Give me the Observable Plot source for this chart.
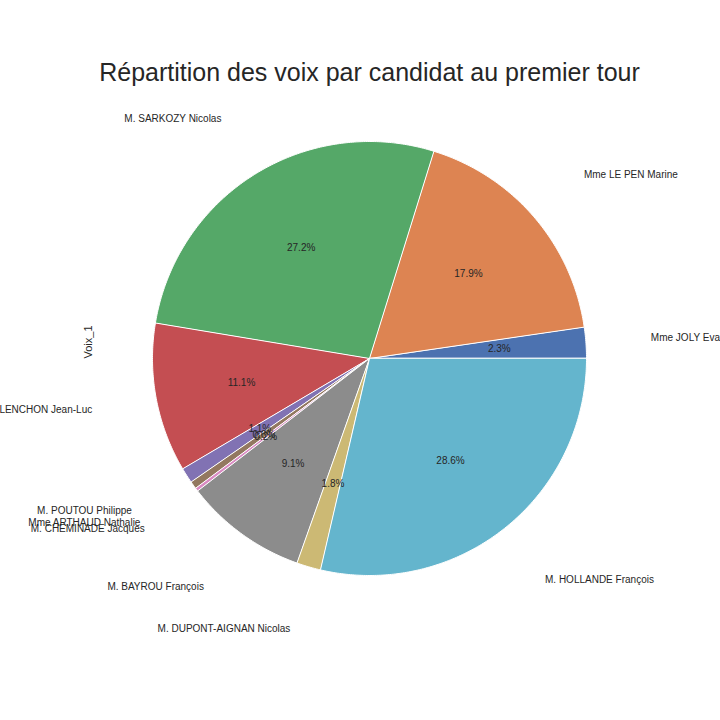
<!DOCTYPE html>
<html>
<head>
<meta charset="utf-8">
<script src="https://cdn.jsdelivr.net/npm/d3@7"></script>
<script src="https://cdn.jsdelivr.net/npm/@observablehq/plot@0.6"></script>
<style>
  body { margin: 0; background: #ffffff; }
  #chart { width: 720px; height: 720px; overflow: hidden; }
</style>
</head>
<body>
<div id="chart"></div>
<script>
const titre = "Répartition des voix par candidat au premier tour";
const yLabel = "Voix_1";
const candidats = [
  "Mme JOLY Eva", "Mme LE PEN Marine", "M. SARKOZY Nicolas", "M. MÉLENCHON Jean-Luc",
  "M. POUTOU Philippe", "Mme ARTHAUD Nathalie", "M. CHEMINADE Jacques",
  "M. BAYROU François", "M. DUPONT-AIGNAN Nicolas", "M. HOLLANDE François"
];
const voix = [828345, 6421426, 9753629, 3984822, 411160, 202548, 89545, 3275122, 643907, 10272705];
const couleurs = ["#4C72B0", "#DD8452", "#55A868", "#C44E52", "#8172B3", "#937860", "#DA8BC3", "#8C8C8C", "#CCB974", "#64B5CD"];

// Pie geometry (matplotlib style: start at 0 rad, counterclockwise)
const total = d3.sum(voix);
let cum = 0;
const slices = candidats.map((name, i) => {
  const a0 = 2 * Math.PI * cum / total;
  cum += voix[i];
  const a1 = 2 * Math.PI * cum / total;
  const mid = (a0 + a1) / 2;
  return {name, value: voix[i], a0, a1, mid, pct: 100 * voix[i] / total};
});
const polys = [];
for (const s of slices) {
  polys.push({name: s.name, x: 0, y: 0});
  const n = Math.max(2, Math.ceil((s.a1 - s.a0) / 0.01));
  for (let k = 0; k <= n; k++) {
    const a = s.a0 + (s.a1 - s.a0) * k / n;
    polys.push({name: s.name, x: Math.cos(a), y: Math.sin(a)});
  }
}
const labelDist = 1.3, pctDist = 0.6;
const labels = slices.map(s => ({name: s.name, x: labelDist * Math.cos(s.mid), y: labelDist * Math.sin(s.mid)}));
const pcts = slices.map(s => ({txt: s.pct.toFixed(1) + "%", x: pctDist * Math.cos(s.mid), y: pctDist * Math.sin(s.mid)}));

const R = 217, cx = 369, cy = 358, W = 720, H = 720;
const font = "'Liberation Sans', Arial, 'DejaVu Sans', sans-serif";
const ink = "#262626";

const chart = Plot.plot({
  width: W, height: H, margin: 0,
  style: {fontFamily: font, background: "white"},
  x: {domain: [-cx / R, (W - cx) / R], axis: null},
  y: {domain: [-(H - cy) / R, cy / R], axis: null},
  color: {domain: candidats, range: couleurs},
  marks: [
    Plot.line(polys, {x: "x", y: "y", z: "name", fill: "name", stroke: "white", strokeWidth: 1, curve: "linear-closed"}),
    Plot.text(labels.filter(d => d.x > 0), {x: "x", y: "y", text: "name", textAnchor: "start", fontSize: 10, fill: ink}),
    Plot.text(labels.filter(d => d.x <= 0), {x: "x", y: "y", text: "name", textAnchor: "end", fontSize: 10, fill: ink}),
    Plot.text(pcts, {x: "x", y: "y", text: "txt", fontSize: 10, fill: ink}),
    Plot.text([titre], {frameAnchor: "top", lineAnchor: "middle", dx: 9, dy: 72, fontSize: 25, fill: ink}),
    Plot.text([yLabel], {frameAnchor: "left", dx: 88, dy: -2, rotate: -90, fontSize: 11, fill: ink})
  ]
});
document.getElementById("chart").append(chart);
</script>
</body>
</html>
